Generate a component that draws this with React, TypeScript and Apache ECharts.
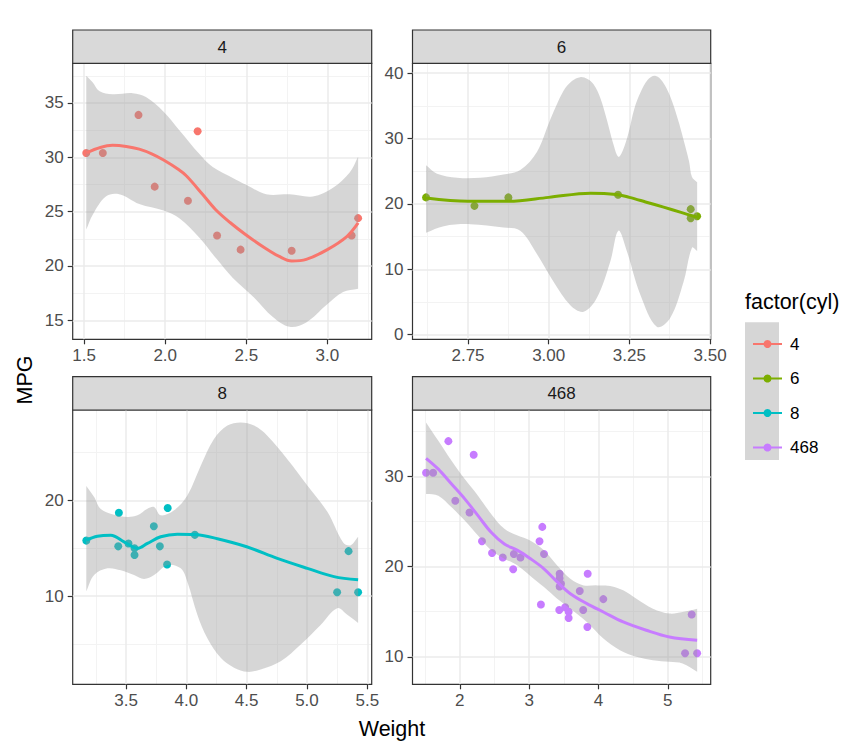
import React, { useEffect, useRef } from "react";
import * as echarts from "echarts";

const FONT = "'Liberation Sans', Arial, Helvetica, sans-serif";

// ---- mtcars points (wt, mpg) by cylinder ----
const wt4 = [2.32, 3.19, 3.15, 2.2, 1.615, 1.835, 2.465, 1.935, 2.14, 1.513, 2.78];
const mpg4 = [22.8, 24.4, 22.8, 32.4, 30.4, 33.9, 21.5, 27.3, 26.0, 30.4, 21.4];
const wt6 = [2.62, 2.875, 3.215, 3.46, 3.44, 3.44, 2.77];
const mpg6 = [21.0, 21.0, 21.4, 18.1, 19.2, 17.8, 19.7];
const wt8 = [3.44, 3.57, 4.07, 3.73, 3.78, 5.25, 5.424, 5.345, 3.52, 3.435, 3.84, 3.845, 3.17, 3.57];
const mpg8 = [18.7, 14.3, 16.4, 17.3, 15.2, 10.4, 10.4, 14.7, 15.5, 15.2, 13.3, 19.2, 15.8, 15.0];

// ---- loess curves and confidence bands ----
const fit4: [number, number][] = [[1.513, 30.4], [1.6, 30.9], [1.675, 31.1], [1.76, 31.0], [1.84, 30.75], [1.92, 30.3], [1.99, 29.75], [2.08, 28.9], [2.13, 28.3], [2.23, 26.6], [2.31, 25.2], [2.4, 24.0], [2.495, 22.9], [2.62, 21.6], [2.7, 20.9], [2.78, 20.45], [2.87, 20.6], [3.0, 21.5], [3.12, 22.7], [3.19, 23.96]];
const upper4: [number, number][] = [[1.513, 37.5], [1.552, 36.9], [1.593, 36.1], [1.675, 35.8], [1.799, 35.9], [1.881, 35.55], [1.99, 34.2], [2.087, 32.5], [2.211, 30.3], [2.293, 29.1], [2.417, 28.1], [2.495, 27.5], [2.623, 26.6], [2.767, 26.6], [2.911, 26.4], [3.035, 27.2], [3.138, 28.6], [3.19, 30.05]];
const lower4: [number, number][] = [[1.513, 23.35], [1.552, 24.7], [1.634, 26.4], [1.716, 26.6], [1.84, 25.7], [1.99, 25.1], [2.087, 24.4], [2.211, 22.6], [2.314, 20.7], [2.417, 18.9], [2.541, 17.2], [2.664, 15.3], [2.767, 14.4], [2.87, 14.8], [2.994, 16.4], [3.097, 17.6], [3.19, 17.9]];

const fit6: [number, number][] = [[2.62, 20.9], [2.75, 20.4], [2.876, 20.4], [3.0, 21.0], [3.13, 21.65], [3.21, 21.45], [3.25, 21.0], [3.3, 20.3], [3.356, 19.5], [3.41, 18.7], [3.46, 17.95]];
const upper6: [number, number][] = [[2.62, 25.9], [2.654, 24.6], [2.716, 24.0], [2.788, 24.0], [2.86, 24.5], [2.912, 25.2], [2.964, 28.0], [3.005, 32.9], [3.046, 37.3], [3.072, 38.8], [3.098, 39.4], [3.12, 39.1], [3.139, 38.3], [3.16, 36.2], [3.18, 32.9], [3.2, 29.2], [3.216, 27.2], [3.23, 28.2], [3.247, 30.8], [3.265, 34.5], [3.284, 37.0], [3.307, 39.0], [3.33, 39.6], [3.353, 38.7], [3.376, 36.5], [3.4, 33.0], [3.418, 29.8], [3.435, 26.5], [3.444, 24.1], [3.46, 23.3]];
const lower6: [number, number][] = [[2.62, 15.6], [2.675, 16.6], [2.757, 16.9], [2.86, 16.4], [2.912, 15.9], [2.964, 12.3], [3.015, 8.1], [3.067, 4.5], [3.108, 3.5], [3.149, 5.6], [3.191, 11.2], [3.216, 15.9], [3.242, 12.8], [3.284, 6.1], [3.335, 1.2], [3.376, 2.5], [3.418, 8.1], [3.444, 13.3], [3.46, 12.8]];

const fit8: [number, number][] = [[3.17, 15.85], [3.262, 16.26], [3.373, 16.37], [3.483, 15.67], [3.594, 14.98], [3.677, 15.5], [3.787, 16.2], [3.925, 16.47], [4.064, 16.44], [4.257, 16.0], [4.5, 15.16], [4.754, 13.94], [5.003, 12.9], [5.224, 12.04], [5.424, 11.7]];
const upper8: [number, number][] = [[3.17, 21.5], [3.235, 20.35], [3.29, 19.1], [3.401, 18.5], [3.511, 18.27], [3.594, 18.44], [3.677, 19.13], [3.732, 19.3], [3.787, 18.44], [3.898, 18.96], [4.008, 20.5], [4.119, 23.6], [4.229, 26.4], [4.34, 27.8], [4.45, 28.13], [4.561, 27.8], [4.671, 26.75], [4.837, 24.3], [5.003, 21.56], [5.169, 18.8], [5.3, 15.6], [5.36, 15.3], [5.424, 16.2]];
const lower8: [number, number][] = [[3.17, 10.5], [3.235, 12.2], [3.345, 12.9], [3.456, 12.7], [3.566, 12.2], [3.649, 11.8], [3.732, 12.2], [3.843, 13.25], [3.953, 12.9], [4.008, 11.5], [4.091, 8.06], [4.174, 5.6], [4.285, 3.56], [4.395, 2.53], [4.506, 2.1], [4.616, 2.35], [4.782, 3.2], [4.948, 4.95], [5.113, 7.0], [5.251, 8.75], [5.334, 8.06], [5.424, 7.2]];

const fit468: [number, number][] = [[1.513, 32.0], [1.69, 30.8], [1.881, 29.15], [2.071, 27.5], [2.262, 25.65], [2.452, 23.8], [2.643, 22.5], [2.833, 21.8], [3.014, 20.9], [3.214, 19.76], [3.405, 18.3], [3.595, 17.0], [3.833, 15.9], [4.071, 14.97], [4.357, 13.87], [4.69, 12.95], [5.024, 12.2], [5.424, 11.84]];
const upper468: [number, number][] = [[1.513, 35.97], [1.69, 33.94], [1.881, 31.73], [2.071, 29.7], [2.262, 27.86], [2.452, 25.84], [2.643, 24.18], [2.833, 23.44], [3.014, 22.9], [3.214, 21.8], [3.405, 20.13], [3.595, 18.66], [3.786, 17.92], [3.976, 17.92], [4.167, 17.85], [4.357, 17.37], [4.548, 16.45], [4.786, 15.34], [5.024, 14.8], [5.214, 14.97], [5.424, 15.34]];
const lower468: [number, number][] = [[1.513, 28.05], [1.69, 27.86], [1.881, 26.57], [2.071, 25.1], [2.262, 23.44], [2.452, 21.8], [2.643, 20.87], [2.833, 20.13], [3.014, 19.0], [3.214, 17.73], [3.405, 16.45], [3.595, 15.34], [3.833, 13.87], [4.071, 12.03], [4.31, 10.74], [4.548, 10.0], [4.786, 9.63], [5.024, 9.45], [5.214, 9.26], [5.424, 8.34]];

// ---- breaks ----
const xBreaks4 = [1.5, 2.0, 2.5, 3.0];
const xMinor4 = [1.75, 2.25, 2.75, 3.25];
const yBreaks4 = [15, 20, 25, 30, 35];
const yMinor4 = [17.5, 22.5, 27.5, 32.5, 37.5];
const xBreaks6 = [2.75, 3.0, 3.25, 3.5];
const xMinor6 = [2.625, 2.875, 3.125, 3.375];
const yBreaks6 = [0, 10, 20, 30, 40];
const yMinor6 = [5, 15, 25, 35];
const xBreaks8 = [3.5, 4.0, 4.5, 5.0, 5.5];
const xMinor8 = [3.25, 3.75, 4.25, 4.75, 5.25];
const yBreaks8 = [10, 20];
const yMinor8 = [5, 15, 25];
const xBreaks468 = [2, 3, 4, 5];
const xMinor468 = [1.5, 2.5, 3.5, 4.5, 5.5];
const yBreaks468 = [10, 20, 30];
const yMinor468 = [15, 25, 35];

const facetNames = ["4", "6", "8", "468"];
const colors = ["#F8766D", "#7CAE00", "#00BFC4", "#C77CFF"];

const pts = (xs: number[], ys: number[]) => xs.map((x, i) => [x, ys[i]]);

const panels = [
  { key: "4", left: 72.7, top: 63.3, width: 299, height: 276, xr: [1.4293, 3.2737], yr: [13.25, 38.65], xb: xBreaks4, xm: xMinor4, yb: yBreaks4, ym: yMinor4, xd: 1, points: pts(wt4, mpg4), fit: fit4, up: upper4, lo: lower4 },
  { key: "6", left: 412.5, top: 63.3, width: 298.2, height: 276, xr: [2.578, 3.502], yr: [-0.72, 41.52], xb: xBreaks6, xm: xMinor6, yb: yBreaks6, ym: yMinor6, xd: 2, points: pts(wt6, mpg6), fit: fit6, up: upper6, lo: lower6 },
  { key: "8", left: 72.7, top: 410, width: 299, height: 274.3, xr: [3.0573, 5.5367], yr: [0.8, 29.43], xb: xBreaks8, xm: xMinor8, yb: yBreaks8, ym: yMinor8, xd: 1, points: pts(wt8, mpg8), fit: fit8, up: upper8, lo: lower8 },
  { key: "468", left: 412.5, top: 410, width: 298.2, height: 274.3, xr: [1.3175, 5.6195], yr: [6.96, 37.35], xb: xBreaks468, xm: xMinor468, yb: yBreaks468, ym: yMinor468, xd: 0, points: pts(wt4.concat(wt6, wt8), mpg4.concat(mpg6, mpg8)), fit: fit468, up: upper468, lo: lower468 },
];

function buildOption() {
  const grid: any[] = [];
  const xAxis: any[] = [];
  const yAxis: any[] = [];
  const lines: any[] = [];
  const scatters: any[] = [];
  const bands: any[] = [];
  const graphic: any[] = [];

  panels.forEach((p, i) => {
    grid.push({
      left: p.left, top: p.top, width: p.width, height: p.height,
      show: true, borderColor: "#333333", borderWidth: 1.2, backgroundColor: "transparent",
      outerBoundsMode: "none", containLabel: false,
    });
    const mk = (dim: "x" | "y", min: number, max: number, breaks: number[], minor: number[], dec: number) => [
      {
        type: "value", gridIndex: i, min, max, position: dim === "x" ? "bottom" : "left",
        axisLine: { show: false, onZero: false },
        axisTick: { show: true, length: 5, customValues: breaks, lineStyle: { color: "#333333", width: 1.2 } },
        axisLabel: {
          show: true, customValues: breaks, color: "#4D4D4D", fontSize: 17, fontFamily: FONT,
          margin: dim === "x" ? 8 : 9,
          formatter: (v: number) => Number(v).toFixed(dec),
        },
        splitLine: { show: true, lineStyle: { color: "#EBEBEB", width: 1.5 } },
        minorTick: { show: false }, minorSplitLine: { show: false },
      },
      {
        type: "value", gridIndex: i, min, max, position: dim === "x" ? "top" : "right",
        axisLine: { show: false, onZero: false },
        axisTick: { show: false, customValues: minor },
        axisLabel: { show: false, customValues: minor },
        splitLine: { show: true, lineStyle: { color: "#F3F3F3", width: 1 } },
        z: -1,
      },
    ];
    xAxis.push(...mk("x", p.xr[0], p.xr[1], p.xb, p.xm, p.xd));
    yAxis.push(...mk("y", p.yr[0], p.yr[1], p.yb, p.ym, 0));

    const color = colors[i];
    lines.push({
      type: "line", name: p.key, xAxisIndex: 2 * i, yAxisIndex: 2 * i, data: p.fit,
      smooth: 0.35, showSymbol: false, symbol: "circle", symbolSize: 8,
      lineStyle: { color, width: 3 }, itemStyle: { color }, z: 5, silent: true,
    });
    scatters.push({
      type: "scatter", name: p.key, xAxisIndex: 2 * i, yAxisIndex: 2 * i, data: p.points,
      symbolSize: 8, itemStyle: { color, opacity: 1 }, z: 3, silent: true,
    });
    const up = p.up, lo = p.lo;
    bands.push({
      type: "custom", name: p.key, xAxisIndex: 2 * i, yAxisIndex: 2 * i,
      data: [up[0]], z: 4, silent: true,
      renderItem: (params: any, api: any) => {
        const u = up.map((q) => api.coord(q));
        const l = lo.slice().reverse().map((q) => api.coord(q));
        // duplicate the four corner points so the smoothed outline keeps straight vertical ends
        const poly = [u[0]].concat(u, [u[u.length - 1]], [l[0]], l, [l[l.length - 1]]);
        return {
          type: "polygon",
          shape: { points: poly, smooth: 0.35 },
          style: { fill: "rgba(153,153,153,0.4)" },
        };
      },
    });

    // strip
    graphic.push({
      type: "rect", z: 1,
      shape: { x: p.left, y: p.top - 33.3, width: p.width, height: 33.3 },
      style: { fill: "#D9D9D9", stroke: "#333333", lineWidth: 1.2 },
    });
    graphic.push({
      type: "text", z: 2, x: p.left + p.width / 2, y: p.top - 16.2,
      style: { text: p.key, fill: "#1A1A1A", fontSize: 17, fontFamily: FONT, align: "center", verticalAlign: "middle" },
    });
  });

  // shared axis titles
  graphic.push({
    type: "text", x: 392, y: 729,
    style: { text: "Weight", fill: "#000", fontSize: 21.5, fontFamily: FONT, align: "center", verticalAlign: "middle" },
  });
  graphic.push({
    type: "text", x: 25, y: 380, rotation: Math.PI / 2,
    style: { text: "MPG", fill: "#000", fontSize: 21.5, fontFamily: FONT, align: "center", verticalAlign: "middle" },
  });
  // legend title & key background
  graphic.push({
    type: "text", x: 745, y: 302,
    style: { text: "factor(cyl)", fill: "#000", fontSize: 21.5, fontFamily: FONT, align: "left", verticalAlign: "middle" },
  });
  graphic.push({
    type: "rect", z: 0, shape: { x: 745, y: 322.3, width: 34, height: 137.7 },
    style: { fill: "#D6D6D6" },
  });

  return {
    animation: false,
    backgroundColor: "#ffffff",
    grid, xAxis, yAxis,
    legend: {
      data: facetNames, orient: "vertical", left: 747, top: 330.5,
      itemWidth: 29, itemHeight: 10, itemGap: 17.5, selectedMode: false,
      textStyle: { fontSize: 17, color: "#000", fontFamily: FONT, padding: [0, 0, 0, 3] },
    },
    graphic,
    series: [...lines, ...scatters, ...bands],
  };
}

export default function App() {
  const ref = useRef<HTMLDivElement>(null);
  useEffect(() => {
    if (!ref.current) return;
    const chart = echarts.init(ref.current, undefined, { renderer: "svg" });
    chart.setOption(buildOption() as any);
    return () => chart.dispose();
  }, []);
  return <div ref={ref} style={{ position: "fixed", left: 0, top: 0, width: 850, height: 754, background: "#fff" }} />;
}
